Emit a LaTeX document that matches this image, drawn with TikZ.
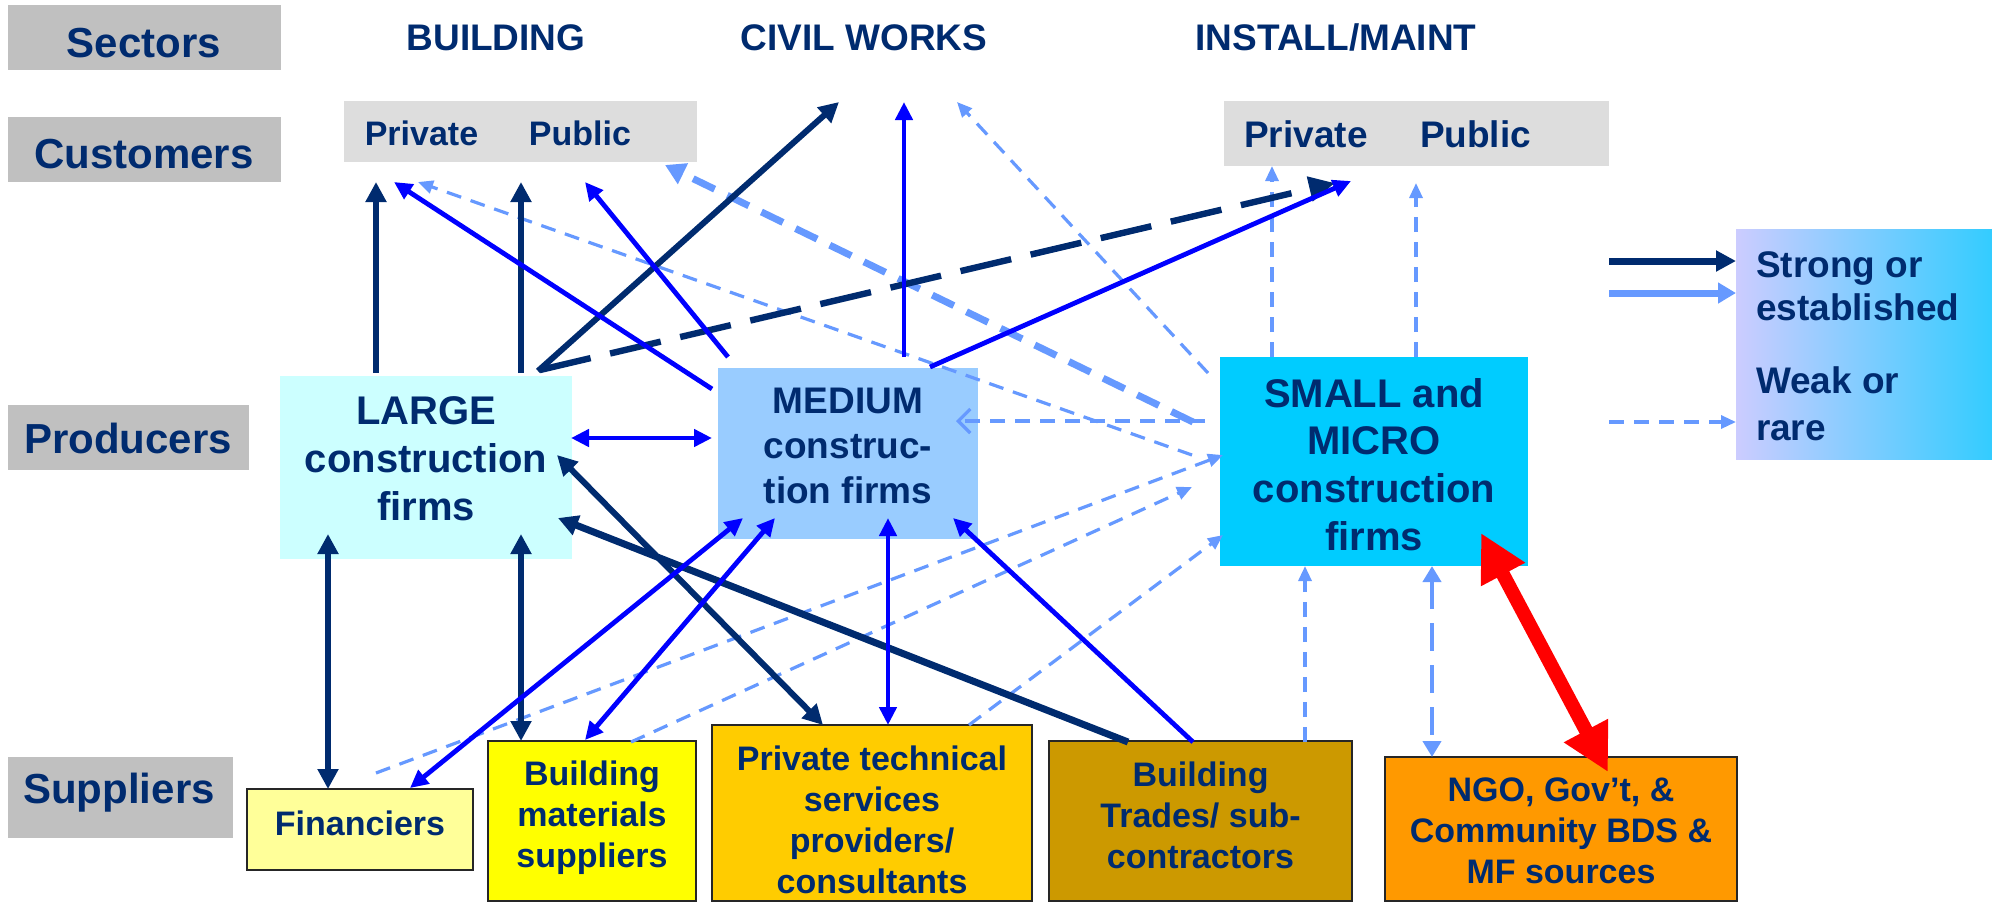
\documentclass[tikz,border=0pt]{standalone}
\usepackage{fontspec}
\setmainfont{Liberation Sans}
\usetikzlibrary{arrows.meta,calc}
\definecolor{navy}{HTML}{002B6F}
\definecolor{labgray}{HTML}{C0C0C0}
\definecolor{custgray}{HTML}{DDDDDD}
\definecolor{largefill}{HTML}{CCFFFF}
\definecolor{medfill}{HTML}{99CCFF}
\definecolor{smallfill}{HTML}{00CCFF}
\definecolor{finfill}{HTML}{FFFF99}
\definecolor{bmsfill}{HTML}{FFFF00}
\definecolor{ptsfill}{HTML}{FFCC00}
\definecolor{btsfill}{HTML}{CC9900}
\definecolor{ngofill}{HTML}{FF9900}
\definecolor{brightblue}{HTML}{0000FF}
\definecolor{lightblue}{HTML}{6699FF}
\definecolor{legleft}{HTML}{CCCCFF}
\definecolor{legright}{HTML}{33CCFF}
\newcommand{\fLab}{\fontsize{21pt}{25pt}\selectfont\bfseries}
\newcommand{\fHead}{\fontsize{18.5pt}{22pt}\selectfont\bfseries}
\newcommand{\fCustA}{\fontsize{17pt}{20pt}\selectfont\bfseries}
\newcommand{\fCustB}{\fontsize{18.5pt}{22pt}\selectfont\bfseries}
\newcommand{\fProd}{\fontsize{20pt}{23.8pt}\selectfont\bfseries}
\newcommand{\fMed}{\fontsize{18.5pt}{22.5pt}\selectfont\bfseries}
\newcommand{\fLeg}{\fontsize{18.5pt}{21.5pt}\selectfont\bfseries}
\newcommand{\fLegB}{\fontsize{18.5pt}{23.5pt}\selectfont\bfseries}
\newcommand{\fSup}{\fontsize{17pt}{20.5pt}\selectfont\bfseries}
\tikzset{
  box/.style={inner sep=0pt, outer sep=0pt},
  lab/.style={box, fill=labgray},
  supbox/.style={box, draw=black!85, line width=1pt},
  txt/.style={inner sep=0pt, outer sep=0pt, text=navy, align=center},
  strong/.style={draw=navy, line width=3pt, >={Triangle[length=10pt,width=10pt]}},
  strongdash/.style={draw=navy, line width=3.2pt, dash pattern=on 26pt off 10pt, >={Triangle[length=13pt,width=12pt]}},
  medlink/.style={draw=brightblue, line width=2.4pt, >={Triangle[length=9pt,width=8.5pt]}},
  weak/.style={draw=lightblue, line width=1.6pt, dash pattern=on 7.5pt off 5pt, >={Triangle[length=7.5pt,width=6.5pt]}},
  weakopen/.style={draw=lightblue, line width=1.6pt, dash pattern=on 7.5pt off 5pt, >={Straight Barb[length=6pt,width=12pt,line width=1.6pt]}},
  weakthick/.style={draw=lightblue, line width=3.5pt, dash pattern=on 12pt off 7pt, >={Triangle[length=10pt,width=11pt]}},
  weakmid/.style={draw=lightblue, line width=2.4pt, dash pattern=on 14pt off 7pt, >={Triangle[length=8pt,width=9pt]}},
  redlink/.style={draw=red, line width=7pt, >={Triangle[length=23.5pt,width=23.5pt]}},
}
\begin{document}
\begin{tikzpicture}[x=0.5pt,y=-0.5pt]
\useasboundingbox (0,0) rectangle (1992,902);
% row labels
\node[lab, minimum width=136.5pt, minimum height=32.5pt] (secB) at (144.5,37.5) {};
\node[txt, font=\fLab, anchor=base] (secT) at (144,57) {Sectors};
\node[lab, minimum width=136.5pt, minimum height=32.5pt] (cusB) at (144.5,149.5) {};
\node[txt, font=\fLab, anchor=base] (cusT) at (144,168) {Customers};
\node[lab, minimum width=120.5pt, minimum height=32.5pt] (proB) at (128.5,437.5) {};
\node[txt, font=\fLab, anchor=base] (proT) at (128,453) {Producers};
\node[lab, minimum width=112.5pt, minimum height=40.5pt] (supB) at (120.5,797.5) {};
\node[txt, font=\fLab, anchor=base] (supT) at (119,803) {Suppliers};
% sector headers
\node[txt, font=\fHead, anchor=base] (bldT) at (496,50) {BUILDING};
\node[txt, font=\fHead, anchor=base] (civT) at (864,50) {CIVIL WORKS};
\node[txt, font=\fHead, anchor=base] (insT) at (1336,50) {INSTALL/MAINT};
% customers
\node[box, fill=custgray, minimum width=176.5pt, minimum height=30.5pt] (custB) at (520.5,131.5) {};
\node[txt, font=\fCustA, anchor=base] (cbPriv) at (421.5,145) {Private};
\node[txt, font=\fCustA, anchor=base] (cbPub) at (580,145) {Public};
\node[box, fill=custgray, minimum width=192.5pt, minimum height=32.5pt] (custI) at (1416.5,133.5) {};
\node[txt, font=\fCustB, anchor=base] (ciPriv) at (1306,147) {Private};
\node[txt, font=\fCustB, anchor=base] (ciPub) at (1475.5,147) {Public};
% producers
\node[box, fill=largefill, minimum width=146pt, minimum height=91.5pt] (large) at (426,467.5) {};
\node[txt, font=\fProd, anchor=base] (largeT) at (426,520) {LARGE\\construction\\firms};
\node[box, fill=medfill, minimum width=130pt, minimum height=85.5pt] (medium) at (848,453.5) {};
\node[txt, font=\fMed, anchor=base] (medT) at (848,503) {MEDIUM\\construc-\\tion firms};
\node[box, fill=smallfill, minimum width=154pt, minimum height=104.5pt] (small) at (1374,461.5) {};
\node[txt, font=\fProd, anchor=base] (smallT) at (1374,550) {SMALL and\\MICRO\\construction\\firms};
% legend
\node[box, left color=legleft, right color=legright, minimum width=128pt, minimum height=115pt] (legend) at (1864,344) {};
\node[txt, font=\fLeg, align=left, anchor=base west] (legT1) at (1756,320) {Strong or\\established};
\node[txt, font=\fLegB, align=left, anchor=base west] (legT2) at (1756,440) {Weak or\\rare};
% suppliers
\node[supbox, fill=finfill, minimum width=113pt, minimum height=40.5pt] (fin) at (360,829.5) {};
\node[txt, font=\fSup, anchor=base] (finT) at (360,835) {Financiers};
\node[supbox, fill=bmsfill, minimum width=104pt, minimum height=80pt] (bms) at (592,821) {};
\node[txt, font=\fSup, anchor=base] (bmsT) at (592,867) {Building\\materials\\suppliers};
\node[supbox, fill=ptsfill, minimum width=160pt, minimum height=88pt] (pts) at (872,813) {};
\node[txt, font=\fSup, anchor=base] (ptsT) at (872,893) {Private technical\\services\\providers/\\consultants};
\node[supbox, fill=btsfill, minimum width=151.5pt, minimum height=80pt] (bts) at (1200.5,821) {};
\node[txt, font=\fSup, anchor=base] (btsT) at (1200.5,868) {Building\\Trades/ sub-\\contractors};
\node[supbox, fill=ngofill, minimum width=176pt, minimum height=72pt] (ngo) at (1561,829) {};
\node[txt, font=\fSup, anchor=base] (ngoT) at (1561,883) {NGO, Gov’t, \&\\Community BDS \&\\MF sources};

% ---- weak links (light blue dashed)
\draw[weak,->] ($(small.north west)+(-28,98)$) -- ($(custB.south west)+(74,20)$);
\draw[weak,->] ($(small.north west)+(-12,16)$) -- ($(civT.base)+(93,52)$);
\draw[weak,->] ($(small.north west)+(52,0)$) -- ($(custI.south west)+(48,0)$);
\draw[weak,->] ($(small.north west)+(196,0)$) -- ($(custI.south west)+(192,17)$);
\draw[weakopen,->] ($(small.north west)+(-15,64)$) -- ($(medium.north east)+(-22,53)$);
\draw[weak,->] ($(fin.north west)+(129,-16)$) -- ($(small.north west)+(3,98)$);
\draw[weak,->] ($(bms.north west)+(143,1)$) -- ($(small.north west)+(-28,130)$);
\draw[weak,->] ($(pts.north east)+(-63,0)$) -- ($(small.north west)+(3,178)$);
\draw[weak,->] ($(bts.north west)+(256,1)$) -- ($(small.south west)+(85,0)$);
\draw[weakthick,->] ($(small.north west)+(-27,65)$) -- ($(custB.south east)+(-32,3)$);
\draw[weakmid,<->] ($(small.south west)+(212,0)$) -- ($(ngo.north west)+(47,0)$);

% ---- strong links (navy)
\draw[strong,->] ($(large.north west)+(96,-3)$) -- ($(custB.south west)+(32,20)$);
\draw[strong,->] ($(large.north west)+(241,-3)$) -- ($(custB.south west)+(177,20)$);
\draw[strong,->] ($(large.north west)+(258,-5)$) -- ($(civT.base)+(-25,52)$);
\draw[strongdash,->] ($(large.north west)+(260,-6)$) -- ($(custI.south west)+(111,17)$);
\draw[strong,<->] ($(large.south west)+(48,-25)$) -- ($(fin.north west)+(81,0)$);
\draw[strong,<->] ($(large.south west)+(241,-25)$) -- ($(bms.north west)+(33,0)$);
\draw[strong,<->] ($(large.north east)+(-15,79)$) -- ($(pts.north west)+(111,0)$);
\draw[strong,line width=3.5pt,->] ($(bts.north west)+(79,1)$) -- ($(large.north east)+(-14,142)$);

% ---- medium links (bright blue)
\draw[medlink,->] ($(medium.north west)+(-6,21)$) -- ($(custB.south west)+(50,20)$);
\draw[medlink,->] ($(medium.north west)+(10,-11)$) -- ($(custB.south west)+(241,20)$);
\draw[medlink,->] ($(medium.north west)+(186,-11)$) -- ($(civT.base)+(40,52)$);
\draw[medlink,->] ($(medium.north west)+(212,-1)$) -- ($(custI.south west)+(127,15)$);
\draw[medlink,<->] ($(large.north east)+(-1,62)$) -- ($(medium.north west)+(-6,70)$);
\draw[medlink,<->] ($(medium.south west)+(25,-21)$) -- ($(fin.north west)+(163,-1)$);
\draw[medlink,<->] ($(medium.south west)+(57,-21)$) -- ($(bms.north west)+(97,-1)$);
\draw[medlink,<->] ($(medium.south west)+(170,-21)$) -- ($(pts.north west)+(176,0)$);
\draw[medlink,->] ($(bts.north west)+(144,1)$) -- ($(medium.south east)+(-25,-21)$);

% ---- red link
\draw[redlink,<->] ($(small.south east)+(-47,-33)$) -- ($(ngo.north west)+(223,15)$);

% ---- legend arrows
\coordinate (lg1) at (1609,261);
\coordinate (lg2) at (1609,293);
\coordinate (lg3) at (1609,422);
\draw[strong,line width=3.5pt,->] (lg1) -- (legend.west |- lg1);
\draw[draw=lightblue, line width=3.5pt, -{Triangle[length=9pt,width=10pt]}] (lg2) -- (legend.west |- lg2);
\draw[weak,->] (lg3) -- (legend.west |- lg3);
\end{tikzpicture}
\end{document}
